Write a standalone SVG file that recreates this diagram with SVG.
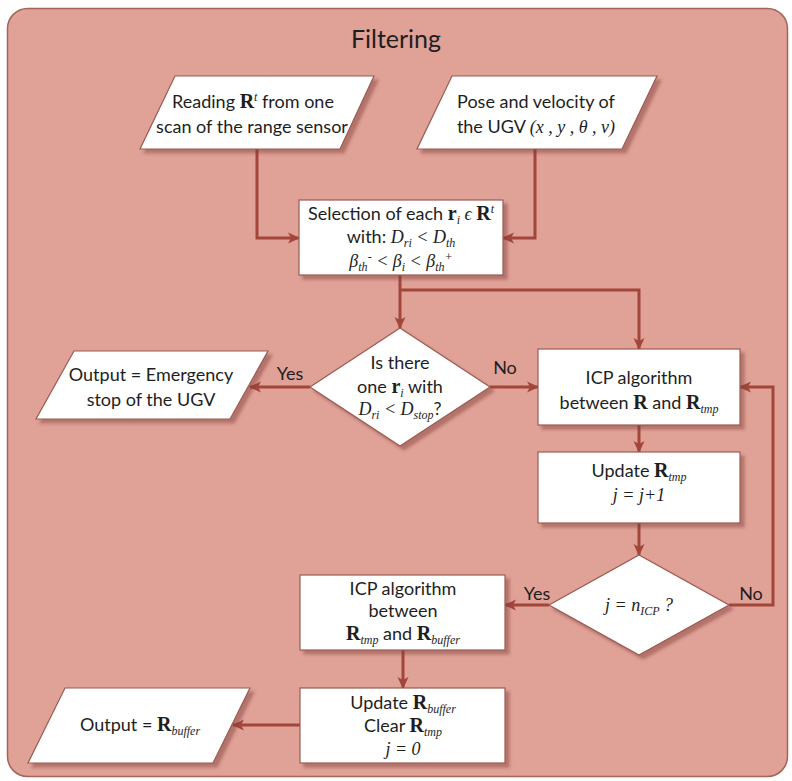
<svg xmlns="http://www.w3.org/2000/svg" width="792" height="781" viewBox="0 0 792 781">
  <style>
    .frame { fill: #e0a197; stroke: #a5645b; stroke-width: 1.5; }
    .node { fill: #ffffff; stroke: #9b5a51; stroke-width: 1.2; filter: url(#shadow); }
    .wire { fill: none; stroke: #a2463b; stroke-width: 3; stroke-linejoin: miter; }
    .arrow { marker-end: url(#head); }
    text { font-family: Lato, "Open Sans", sans-serif; font-size: 18px; fill: #1e1e1e; text-anchor: middle; }
    .title { font-size: 25px; }
    .m { font-family: "Liberation Serif", serif; font-style: italic; font-size: 18px; }
    .b { font-family: "Liberation Serif", serif; font-weight: bold; font-size: 20px; }
    .s { font-family: "Liberation Serif", serif; font-style: italic; font-size: 12px; }
  </style>
  <defs>
    <filter id="shadow" x="-10%" y="-10%" width="130%" height="140%">
      <feDropShadow dx="4" dy="4" stdDeviation="1.8" flood-color="#7a3a32" flood-opacity="0.45"/>
    </filter>
    <marker id="head" viewBox="0 0 12 12" refX="11" refY="6" markerWidth="12" markerHeight="12" markerUnits="userSpaceOnUse" orient="auto">
      <path d="M0,0.5 L12,6 L0,11.5 L3,6 Z" fill="#a2463b"/>
    </marker>
  </defs>

  <!-- outer container -->
  <rect class="frame" x="7.5" y="8.5" width="780" height="768" rx="20"/>
  <text class="title" x="396" y="48">Filtering</text>

  <!-- connectors -->
  <g id="connectors">
    <path class="wire arrow" d="M257,149 V238 H299"/>
    <path class="wire arrow" d="M535,149 V238 H503"/>
    <path class="wire arrow" d="M400,275 V328"/>
    <path class="wire arrow" d="M400,290 H639 V349"/>
    <path class="wire arrow" d="M310,387 H250"/>
    <path class="wire arrow" d="M490,387 H538"/>
    <path class="wire arrow" d="M639,425 V452"/>
    <path class="wire arrow" d="M639,523 V555"/>
    <path class="wire arrow" d="M549,605 H505"/>
    <path class="wire arrow" d="M729,605 H773 V387 H740"/>
    <path class="wire arrow" d="M403,650 V688"/>
    <path class="wire arrow" d="M300,725 H233"/>
    <text x="290" y="380">Yes</text>
    <text x="505" y="374">No</text>
    <text x="537" y="600">Yes</text>
    <text x="751" y="600">No</text>
  </g>

  <g id="input-scan">
    <polygon class="node" points="175,76 374,76 340,149 140,149"/>
    <text x="253" y="108">Reading <tspan class="b">R</tspan><tspan class="s" dy="-7">t</tspan><tspan dy="7"> from one</tspan></text>
    <text x="252" y="133">scan of the range sensor</text>
  </g>

  <g id="input-pose">
    <polygon class="node" points="452,76 657,76 622,149 417,149"/>
    <text x="536" y="108">Pose and velocity of</text>
    <text x="536" y="133">the UGV <tspan class="m">(x , y , θ , v)</tspan></text>
  </g>

  <g id="selection">
    <rect class="node" x="299" y="200" width="204" height="75"/>
    <text x="401" y="220">Selection of each <tspan class="b">r</tspan><tspan class="s" dy="4">i</tspan><tspan class="m" dy="-4"> ϵ </tspan><tspan class="b">R</tspan><tspan class="s" dy="-7">t</tspan></text>
    <text x="401" y="243">with: <tspan class="m">D</tspan><tspan class="s" dy="4">ri</tspan><tspan class="m" dy="-4"> &lt; D</tspan><tspan class="s" dy="4">th</tspan></text>
    <text x="401" y="267"><tspan class="m">β</tspan><tspan class="s" dy="4">th</tspan><tspan class="s" dy="-10">-</tspan><tspan class="m" dy="6"> &lt; β</tspan><tspan class="s" dy="4">i</tspan><tspan class="m" dy="-4"> &lt; β</tspan><tspan class="s" dy="4">th</tspan><tspan class="s" dy="-10">+</tspan></text>
  </g>

  <g id="decision-stop">
    <polygon class="node" points="400,328 490,387 400,446 310,387"/>
    <text x="400" y="369">Is there</text>
    <text x="400" y="393">one <tspan class="b">r</tspan><tspan class="s" dy="4">i</tspan><tspan dy="-4"> with</tspan></text>
    <text x="400" y="415"><tspan class="m">D</tspan><tspan class="s" dy="4">ri</tspan><tspan class="m" dy="-4"> &lt; D</tspan><tspan class="s" dy="4">stop</tspan><tspan dy="-4">?</tspan></text>
  </g>

  <g id="output-emergency">
    <polygon class="node" points="74,351 268,351 230,419 36,419"/>
    <text x="151" y="381">Output = Emergency</text>
    <text x="151" y="406">stop of the UGV</text>
  </g>

  <g id="icp-scan">
    <rect class="node" x="538" y="349" width="202" height="76"/>
    <text x="639" y="384">ICP algorithm</text>
    <text x="639" y="409">between <tspan class="b">R</tspan> and <tspan class="b">R</tspan><tspan class="s" dy="4">tmp</tspan></text>
  </g>

  <g id="update-tmp">
    <rect class="node" x="538" y="452" width="202" height="71"/>
    <text x="639" y="477">Update <tspan class="b">R</tspan><tspan class="s" dy="4">tmp</tspan></text>
    <text x="639" y="501" class="m">j = j+1</text>
  </g>

  <g id="decision-count">
    <polygon class="node" points="639,555 729,605 639,655 549,605"/>
    <text x="639" y="611" class="m">j = n<tspan class="s" dy="4">ICP</tspan><tspan dy="-4"> ?</tspan></text>
  </g>

  <g id="icp-buffer">
    <rect class="node" x="300" y="575" width="205" height="75"/>
    <text x="403" y="595">ICP algorithm</text>
    <text x="403" y="617">between</text>
    <text x="403" y="640"><tspan class="b">R</tspan><tspan class="s" dy="4">tmp</tspan><tspan dy="-4"> and </tspan><tspan class="b">R</tspan><tspan class="s" dy="4">buffer</tspan></text>
  </g>

  <g id="update-buffer">
    <rect class="node" x="300" y="688" width="205" height="75"/>
    <text x="403" y="709">Update <tspan class="b">R</tspan><tspan class="s" dy="4">buffer</tspan></text>
    <text x="403" y="732">Clear <tspan class="b">R</tspan><tspan class="s" dy="4">tmp</tspan></text>
    <text x="403" y="755" class="m">j = 0</text>
  </g>

  <g id="output-buffer">
    <polygon class="node" points="65,688 250,688 213,763 28,763"/>
    <text x="140" y="731">Output = <tspan class="b">R</tspan><tspan class="s" dy="4">buffer</tspan></text>
  </g>
</svg>
